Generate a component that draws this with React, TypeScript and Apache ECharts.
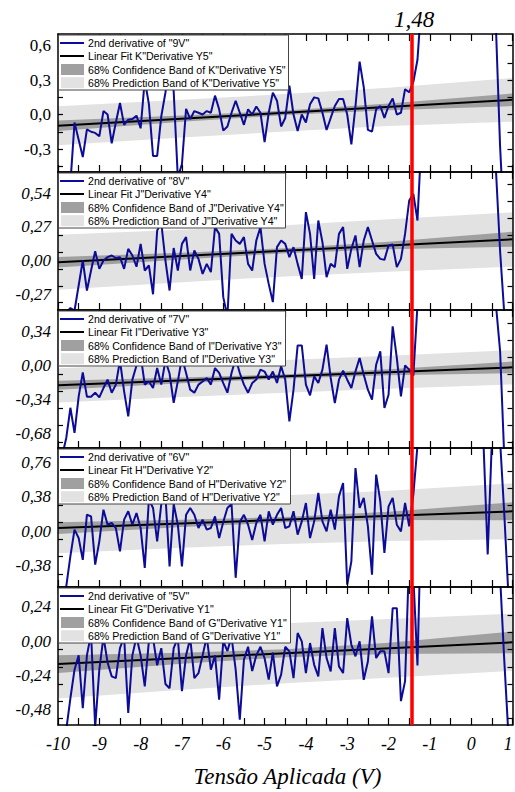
import { useEffect, useRef } from 'react';
import * as echarts from 'echarts';

// Applied voltage grid (V), 0.1 V step from -10 to 1
const voltages: number[] = Array.from({ length: 111 }, (_, i) => Math.round((-10 + i * 0.1) * 10) / 10);

// Second-derivative curves (null = off-scale, not visible)
const d9V: (number | null)[] = [
  -0.9, -0.9, -0.9, -0.6, -0.07, -0.22, -0.37, -0.13, -0.15, -0.16,
  -0.19, 0.03, 0.0, -0.25, -0.07, 0.1, -0.09, -0.045, -0.04, -0.01,
  -0.12, 0.3, 0.09, -0.36, -0.36, -0.015, 0.19, 0.45, 0.2, -0.55,
  -0.43, 0.05, -0.04, 0.03, 0.015, 0.0, 0.03, 0.015, 0.164, 0.045,
  -0.14, -0.104, 0.015, 0.12, 0.015, -0.09, 0.045, 0.0, 0.07, 0.015,
  -0.24, 0.015, 0.19, 0.12, -0.104, -0.03, 0.25, 0.0, -0.143, 0.0,
  -0.069, 0.089, 0.149, 0.14, 0.015, -0.135, -0.03, 0.074, 0.134, 0.134,
  0.0, -0.26, 0.074, 0.46, 0.238, -0.134, -0.149, 0.045, 0.074, -0.03,
  0.074, 0.14, 0.0, 0.015, 0.22, 0.193, 0.283, 0.476, 1.0, null,
  null, null, null, null, null, null, null, null, null, null,
  null, null, null, null, null, null, 0.75, -0.28, -1.0, -1.5,
  -2.0,
];
const d8V: (number | null)[] = [
  -0.45, -0.45, -0.42, -0.38, -0.4, -0.2, 0.0, -0.24, -0.08, 0.075,
  -0.067, 0.0, 0.027, 0.04, 0.02, 0.027, -0.067, 0.093, 0.04, -0.05,
  0.133, -0.08, -0.04, -0.27, 0.24, 0.3, 0.0, -0.24, 0.1, -0.08,
  0.133, 0.187, -0.08, 0.08, 0.013, -0.107, -0.027, -0.093, 0.267, 0.213,
  -0.293, -0.45, 0.213, 0.16, 0.133, 0.187, -0.027, -0.08, 0.16, 0.267,
  -0.027, -0.187, -0.333, 0.107, 0.16, 0.133, 0.027, 0.107, -0.027, -0.147,
  0.387, 0.213, -0.147, 0.32, 0.147, -0.133, -0.027, -0.053, 0.213, 0.267,
  -0.067, 0.093, 0.2, -0.053, 0.16, 0.267, 0.16, 0.053, 0.013, 0.005,
  0.12, 0.128, -0.053, 0.013, 0.213, 0.48, 0.533, 0.32, 1.0, null,
  null, null, null, null, null, null, null, null, null, null,
  null, null, null, null, null, null, 0.72, 0.074, -0.42, -1.0,
  -1.5,
];
const d7V: (number | null)[] = [
  -1.0, -0.9, -0.72, -0.42, -0.67, -0.31, -0.068, -0.31, -0.31, -0.27,
  -0.316, -0.224, -0.14, -0.27, -0.19, 0.05, -0.257, -0.505, -0.14, 0.0,
  0.1, -0.19, -0.158, -0.224, -0.025, -0.19, 0.05, -0.08, -0.37, -0.158,
  0.08, -0.074, -0.24, -0.27, -0.19, -0.158, -0.124, -0.19, -0.025, -0.074,
  -0.174, -0.27, -0.074, 0.07, -0.074, -0.19, -0.27, -0.174, -0.14, -0.041,
  -0.06, -0.14, -0.06, -0.174, -0.008, -0.14, -0.555, -0.24, 0.2, 0.2,
  -0.19, -0.297, -0.108, -0.174, -0.041, 0.207, -0.124, -0.373, -0.141, -0.051,
  -0.141, -0.224, -0.058, 0.075, -0.091, -0.24, -0.34, 0.008, 0.141, -0.422,
  -0.29, 0.39, 0.075, -0.306, 0.002, -0.041, -0.1, 0.6, 1.2, null,
  null, null, null, null, null, null, null, null, null, null,
  null, null, null, null, null, null, 0.6, 0.144, -0.9, -1.3,
  -1.6,
];
const d6V: (number | null)[] = [
  -0.8, -0.8, -0.615, -0.28, 0.015, -0.078, -0.32, 0.181, 0.163, -0.374,
  -0.115, 0.237, 0.07, 0.089, 0.033, -0.226, 0.126, 0.219, 0.07, 0.2,
  0.033, -0.41, 0.35, 0.256, -0.115, 0.3, 0.4, -0.393, 0.3, 0.07,
  -0.393, 0.18, 0.256, 0.18, 0.033, 0.126, 0.015, 0.033, 0.163, -0.078,
  0.1, 0.256, 0.3, -0.52, 0.1, 0.18, 0.07, -0.1, 0.089, 0.18,
  -0.115, 0.219, 0.07, 0.18, 0.256, 0.033, 0.052, 0.219, -0.041, 0.107,
  0.311, -0.078, 0.107, 0.422, 0.107, -0.004, 0.237, 0.015, 0.385, 0.533,
  -0.596, -0.337, 0.7, 0.256, 0.367, 0.052, -0.485, 0.626, 0.33, -0.244,
  0.274, 0.367, 0.07, -0.004, 0.311, 0.052, 0.404, 0.95, 1.5, null,
  null, null, null, null, null, null, null, null, null, null,
  null, null, null, 0.95, -0.26, 1.0, 1.5, 1.0, 0.2, -0.7,
  -1.2,
];
const d5V: (number | null)[] = [
  -0.8, -0.8, -0.62, -0.4, -0.2, -0.1, -0.47, -0.1, 0.05, -0.6,
  -0.2, 0.03, -0.15, -0.247, -0.259, -0.05, 0.03, -0.503, -0.1, 0.03,
  -0.1, -0.317, 0.0, 0.02, -0.17, -0.05, -0.3, -0.33, -0.05, 0.02,
  -0.35, -0.1, 0.02, -0.26, -0.225, -0.1, 0.03, -0.2, -0.1, -0.41,
  0.0, -0.07, 0.03, -0.2, -0.55, -0.13, -0.04, -0.21, -0.1, -0.04,
  -0.12, -0.27, -0.08, -0.317, -0.235, -0.04, -0.072, -0.259, 0.056, -0.002,
  -0.224, -0.014, -0.166, -0.247, 0.091, -0.119, -0.212, 0.091, -0.177, -0.224,
  0.161, -0.026, -0.107, -0.002, -0.271, -0.143, 0.172, -0.119, -0.072, -0.072,
  -0.224, 0.23, 0.23, -0.42, -0.28, 0.6, 0.45, -0.17, 1.0, null,
  null, null, null, null, null, null, null, null, null, null,
  null, null, null, null, null, 1.0, 1.0, 0.45, -0.13, -0.65,
  -1.0,
];

// Linear fits (value at x = -10 and x = 1)
const fitX = [-10, 1];
const fit9V = [-0.098, 0.128];
const fit8V = [-0.014, 0.17];
const fit7V = [-0.197, -0.018];
const fit6V = [0.033, 0.219];
const fit5V = [-0.161, -0.009];

// Band edges sampled at these voltages
const bandX = [-10, -7, -4.5, -2, 1];
const conf9VLo = [-0.143, -0.064, -0.005, 0.036, 0.073];
const conf9VHi = [-0.053, -0.008, 0.035, 0.096, 0.183];
const pred9VLo = [-0.268, -0.201, -0.148, -0.101, -0.062];
const pred9VHi = [0.072, 0.128, 0.178, 0.233, 0.318];
const conf8VLo = [-0.056, 0.009, 0.058, 0.09, 0.11];
const conf8VHi = [0.028, 0.063, 0.098, 0.15, 0.23];
const pred8VLo = [-0.234, -0.174, -0.127, -0.09, -0.05];
const pred8VHi = [0.206, 0.246, 0.283, 0.33, 0.385];
const conf7VLo = [-0.242, -0.176, -0.128, -0.097, -0.076];
const conf7VHi = [-0.152, -0.12, -0.088, -0.037, 0.04];
const pred7VLo = [-0.367, -0.313, -0.271, -0.232, -0.188];
const pred7VHi = [-0.027, 0.017, 0.055, 0.098, 0.152];
const conf6VLo = [-0.032, 0.044, 0.096, 0.123, 0.119];
const conf6VHi = [0.098, 0.124, 0.156, 0.213, 0.319];
const pred6VLo = [-0.247, -0.186, -0.144, -0.112, -0.091];
const pred6VHi = [0.313, 0.354, 0.396, 0.448, 0.529];
const conf5VLo = [-0.223, -0.158, -0.113, -0.091, -0.085];
const conf5VHi = [-0.099, -0.082, -0.057, -0.011, 0.067];
const pred5VLo = [-0.401, -0.34, -0.295, -0.256, -0.209];
const pred5VHi = [0.079, 0.1, 0.125, 0.155, 0.191];

// Axis ticks / labels
const xLabelValues = [-10, -9, -8, -7, -6, -5, -4, -3, -2, -1, 0, 1];
const yLabels9V = [-0.3, 0, 0.3, 0.6];
const yTicks9V = [-0.45, -0.3, -0.15, 0, 0.15, 0.3, 0.45, 0.6];
const yLabels8V = [-0.27, 0, 0.27, 0.54];
const yTicks8V = [-0.3375, -0.2025, -0.0675, 0.0675, 0.2025, 0.3375, 0.4725, 0.6075];
const yLabels7V = [-0.68, -0.34, 0, 0.34];
const yTicks7V = [-0.765, -0.595, -0.425, -0.255, -0.085, 0.085, 0.255, 0.425];
const yLabels6V = [-0.38, 0, 0.38, 0.76];
const yTicks6V = [-0.475, -0.285, -0.095, 0.095, 0.285, 0.475, 0.665, 0.855];
const yLabels5V = [-0.48, -0.24, 0, 0.24];
const yTicks5V = [-0.54, -0.42, -0.3, -0.18, -0.06, 0.06, 0.18, 0.3];

const redLineX = -1.43;
const redLineLabel = '1,48';
const xTitle = 'Tensão Aplicada (V)';

const legend9V = ['2nd derivative of "9V"', 'Linear Fit K"Derivative Y5"', '68% Confidence Band of K"Derivative Y5"', '68% Prediction Band of K"Derivative Y5"'];
const legend8V = ['2nd derivative of "8V"', 'Linear Fit J"Derivative Y4"', '68% Confidence Band of J"Derivative Y4"', '68% Prediction Band of J"Derivative Y4"'];
const legend7V = ['2nd derivative of "7V"', 'Linear Fit I"Derivative Y3"', '68% Confidence Band of I"Derivative Y3"', '68% Prediction Band of I"Derivative Y3"'];
const legend6V = ['2nd derivative of "6V"', 'Linear Fit H"Derivative Y2"', '68% Confidence Band of H"Derivative Y2"', '68% Prediction Band of H"Derivative Y2"'];
const legend5V = ['2nd derivative of "5V"', 'Linear Fit G"Derivative Y1"', '68% Confidence Band of G"Derivative Y1"', '68% Prediction Band of G"Derivative Y1"'];

const BLUE = '#0c0c98';
const DARK = '#a0a0a0';
const LIGHT = '#e2e2e2';
const SERIF = 'Liberation Serif';
const SANS = 'Liberation Sans';

export default function App() {
  const ref = useRef<HTMLDivElement>(null);

  useEffect(() => {
    if (!ref.current) return;
    const chart = echarts.init(ref.current, undefined, { renderer: 'svg' });

    const panels = [
      { data: d9V, fit: fit9V, cLo: conf9VLo, cHi: conf9VHi, pLo: pred9VLo, pHi: pred9VHi, labels: yLabels9V, ticks: yTicks9V, legend: legend9V, min: -0.5, max: 0.7, dec: 1, italic: false, boxW: 230 },
      { data: d8V, fit: fit8V, cLo: conf8VLo, cHi: conf8VHi, pLo: pred8VLo, pHi: pred8VHi, labels: yLabels8V, ticks: yTicks8V, legend: legend8V, min: -0.396, max: 0.708, dec: 2, italic: true, boxW: 227 },
      { data: d7V, fit: fit7V, cLo: conf7VLo, cHi: conf7VHi, pLo: pred7VLo, pHi: pred7VHi, labels: yLabels7V, ticks: yTicks7V, legend: legend7V, min: -0.82, max: 0.552, dec: 2, italic: true, boxW: 227 },
      { data: d6V, fit: fit6V, cLo: conf6VLo, cHi: conf6VHi, pLo: pred6VLo, pHi: pred6VHi, labels: yLabels6V, ticks: yTicks6V, legend: legend6V, min: -0.622, max: 0.922, dec: 2, italic: true, boxW: 232 },
      { data: d5V, fit: fit5V, cLo: conf5VLo, cHi: conf5VHi, pLo: pred5VLo, pHi: pred5VHi, labels: yLabels5V, ticks: yTicks5V, legend: legend5V, min: -0.587, max: 0.378, dec: 2, italic: true, boxW: 232 },
    ];
    const tops = [34, 172, 310, 448, 587];
    const heights = [138, 138, 138, 139, 138];
    const GL = 58;
    const GW = 454.5;

    const frame = { show: true, onZero: false, lineStyle: { color: '#000', width: 1.5 } };

    const grids = panels.map((_, p) => ({
      left: GL, top: tops[p], width: GW, height: heights[p], containLabel: false, outerBoundsMode: 'none',
    }));

    const xAxes: any[] = [];
    const yAxes: any[] = [];
    panels.forEach((pn, p) => {
      xAxes[p] = {
        type: 'value', gridIndex: p, position: 'bottom', min: -10, max: 1, interval: 0.5, z: 8,
        axisLine: frame,
        axisTick: { show: true, inside: true, length: 7, lineStyle: { color: '#000', width: 1.2 } },
        axisLabel: {
          show: p === 4, customValues: xLabelValues, margin: 10, color: '#000',
          fontFamily: SERIF, fontStyle: 'italic', fontSize: 18, hideOverlap: false,
          alignMaxLabel: 'right',
          formatter: (v: number) => String(v),
        },
        splitLine: { show: false },
      };
      xAxes[5 + p] = {
        type: 'value', gridIndex: p, position: 'top', min: -10, max: 1, interval: 0.5, z: 8,
        axisLine: frame,
        axisTick: { show: true, inside: true, length: 7, lineStyle: { color: '#000', width: 1.2 } },
        axisLabel: { show: false },
        splitLine: { show: false },
      };
      yAxes[p] = {
        type: 'value', gridIndex: p, position: 'left', min: pn.min, max: pn.max, z: 8,
        axisLine: frame,
        axisTick: { show: true, inside: true, length: 5, customValues: pn.ticks, lineStyle: { color: '#000', width: 1.2 } },
        axisLabel: {
          show: true, customValues: pn.labels, margin: 7, color: '#000',
          fontFamily: SERIF, fontStyle: pn.italic ? 'italic' : 'normal', fontSize: 17,
          formatter: (v: number) => v.toFixed(pn.dec).replace('.', ','),
        },
        splitLine: { show: false },
      };
      yAxes[5 + p] = {
        type: 'value', gridIndex: p, position: 'right', min: pn.min, max: pn.max, z: 8,
        axisLine: frame,
        axisTick: { show: true, inside: true, length: 5, customValues: pn.ticks, lineStyle: { color: '#000', width: 1.2 } },
        axisLabel: { show: false },
        splitLine: { show: false },
      };
    });

    const band = (p: number, lo: number[], hi: number[], color: string, z: number, name: string) => ({
      type: 'custom', name, xAxisIndex: p, yAxisIndex: p, z, silent: true, clip: true,
      data: [[bandX[0], lo[0]]],
      renderItem: (_params: any, api: any) => {
        const pts: number[][] = [];
        for (let k = 0; k < bandX.length; k++) pts.push(api.coord([bandX[k], hi[k]]));
        for (let k = bandX.length - 1; k >= 0; k--) pts.push(api.coord([bandX[k], lo[k]]));
        return { type: 'polygon', shape: { points: pts }, style: { fill: color, stroke: 'none' } };
      },
    });

    const series: any[] = [];
    panels.forEach((pn, p) => {
      series.push(band(p, pn.pLo, pn.pHi, LIGHT, 1, pn.legend[3]));
      series.push(band(p, pn.cLo, pn.cHi, DARK, 2, pn.legend[2]));
      series.push({
        type: 'line', name: pn.legend[1], xAxisIndex: p, yAxisIndex: p, z: 3,
        data: fitX.map((x, k) => [x, pn.fit[k]]),
        symbol: 'none', lineStyle: { color: '#000', width: 2 }, silent: true,
      });
      series.push({
        type: 'line', name: pn.legend[0], xAxisIndex: p, yAxisIndex: p, z: 4,
        data: voltages.map((x, k) => [x, pn.data[k]]),
        symbol: 'none', connectNulls: false, clip: true,
        lineStyle: { color: BLUE, width: 2 }, silent: true,
        markLine: {
          silent: true, symbol: ['none', 'none'], z: 10, animation: false,
          label: { show: false },
          lineStyle: { color: '#ff0000', width: 3.5, type: 'solid' },
          data: [{ xAxis: redLineX }],
        },
      });
    });

    const graphic: any[] = [];
    panels.forEach((pn, p) => {
      const t = tops[p];
      const rows = [t + 9, t + 22, t + 35.5, t + 48.7];
      graphic.push({ type: 'rect', z: 100, shape: { x: GL + 0.5, y: t + 1, width: pn.boxW, height: 55 }, style: { fill: '#fff', stroke: '#444', lineWidth: 1 } });
      graphic.push({ type: 'line', z: 101, shape: { x1: 60, y1: rows[0], x2: 84, y2: rows[0] }, style: { stroke: BLUE, lineWidth: 2 } });
      graphic.push({ type: 'line', z: 101, shape: { x1: 60, y1: rows[1], x2: 84, y2: rows[1] }, style: { stroke: '#000', lineWidth: 2 } });
      graphic.push({ type: 'rect', z: 101, shape: { x: 61, y: rows[2] - 5.5, width: 23, height: 11 }, style: { fill: DARK } });
      graphic.push({ type: 'rect', z: 101, shape: { x: 61, y: rows[3] - 5.5, width: 23, height: 11 }, style: { fill: LIGHT } });
      pn.legend.forEach((txt, k) => {
        graphic.push({
          type: 'text', z: 102, x: 88, y: rows[k],
          style: { text: txt, fontSize: 10.6, fontFamily: SANS, fill: '#000', align: 'left', verticalAlign: 'middle' },
        });
      });
    });
    graphic.push({
      type: 'text', z: 102, x: 414, y: 19,
      style: { text: redLineLabel, fontSize: 23, fontFamily: SERIF, fontStyle: 'italic', fill: '#000', align: 'center', verticalAlign: 'middle' },
    });
    graphic.push({
      type: 'text', z: 102, x: 287.5, y: 776,
      style: { text: xTitle, fontSize: 23, fontFamily: SERIF, fontStyle: 'italic', fill: '#000', align: 'center', verticalAlign: 'middle' },
    });

    chart.setOption({
      animation: false,
      backgroundColor: '#fff',
      grid: grids,
      xAxis: xAxes,
      yAxis: yAxes,
      series,
      graphic,
    });

    return () => chart.dispose();
  }, []);

  return <div ref={ref} style={{ position: 'fixed', left: 0, top: 0, width: 515, height: 792, background: '#fff' }} />;
}
